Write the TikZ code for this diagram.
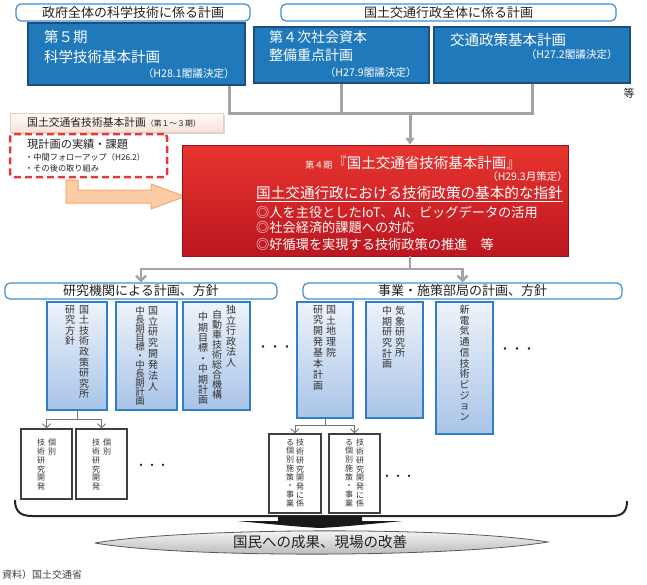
\documentclass[tikz,border=0pt]{standalone}
\usepackage{fontspec}
\setmainfont{Noto Sans CJK JP}
\usetikzlibrary{arrows.meta,shadows}
\definecolor{hdrblue}{HTML}{3D8FD1}
\definecolor{bbfill}{HTML}{2079BA}
\definecolor{bbdraw}{HTML}{1D4E7E}
\definecolor{redtop}{HTML}{E8352F}
\definecolor{redbot}{HTML}{BC1620}
\definecolor{lbtop}{HTML}{EEF3FA}
\definecolor{lbbot}{HTML}{A8C4E8}
\definecolor{lbdraw}{HTML}{2F7EC6}
\definecolor{conncol}{HTML}{A3A3A3}
\definecolor{dashred}{HTML}{E03A3A}
\definecolor{orfill}{HTML}{FBCCA6}
\definecolor{ordraw}{HTML}{F5A76E}
\definecolor{txt}{HTML}{222222}
\definecolor{lptop}{HTML}{FFFAF6}
\definecolor{lpbot}{HTML}{F6E3D8}
\definecolor{lpdraw}{HTML}{E5CFC5}
\newcommand\fs[1]{\fontsize{#1}{#1}\selectfont}
\newcommand\vf[2]{\fontsize{#1}{#2}\selectfont}
\begin{document}
\begin{tikzpicture}[x=1pt,y=-1pt,
  hdr/.style={draw=hdrblue, line width=1.2pt, rounded corners=5pt, fill=white, inner sep=0pt, text=txt, font=\fs{13}},
  bbox/.style={draw=bbdraw, line width=1.5pt, fill=bbfill, inner sep=0pt},
  vbox/.style={draw=lbdraw, line width=1.8pt, top color=lbtop, bottom color=lbbot, inner sep=0pt},
  ibox/.style={draw=black!75, line width=1.3pt, fill=white, inner sep=0pt},
  vt/.style={inner sep=0pt, anchor=north, align=center, text=black!80},
  wt/.style={inner sep=0pt, text=white},
  bt/.style={inner sep=0pt, text=txt},
  conn/.style={draw=conncol, line width=3pt},
  conntwo/.style={draw=conncol, line width=2.5pt},
  thinconn/.style={draw=black!55, line width=0.9pt},
  barb/.style={-{Straight Barb[length=4pt,width=8pt]}},
]
\useasboundingbox (0,0) rectangle (647,584);

% top headers
\node[hdr, minimum width=234, minimum height=17] (hA) at (133,12.5) {政府全体の科学技術に係る計画};
\node[hdr, minimum width=335, minimum height=17] (hB) at (448.5,12.5) {国土交通行政全体に係る計画};

% blue boxes
\node[bbox, minimum width=217, minimum height=62] (b1) at (136.5,54) {};
\node[wt, font=\fs{14.5}, anchor=west] (b1a) at (44,37) {第５期};
\node[wt, font=\fs{14.5}, anchor=west] (b1b) at (44,57) {科学技術基本計画};
\node[wt, font=\fs{10.6}, anchor=east] (b1c) at (235,73) {（H28.1閣議決定）};

\node[bbox, minimum width=175, minimum height=56] (b2) at (341.5,55) {};
\node[wt, font=\fs{14}, anchor=west] (b2a) at (269,37) {第４次社会資本};
\node[wt, font=\fs{14}, anchor=west] (b2b) at (269,55) {整備重点計画};
\node[wt, font=\fs{10.6}, anchor=east] (b2c) at (417,72) {（H27.9閣議決定）};

\node[bbox, minimum width=196, minimum height=56] (b3) at (532,55) {};
\node[wt, font=\fs{14.5}, anchor=west] (b3a) at (450,40) {交通政策基本計画};
\node[wt, font=\fs{10.6}, anchor=east] (b3b) at (618,54) {（H27.2閣議決定）};
\node[bt, font=\fs{11}] (etc) at (629,93) {等};

% light box
\node[draw=lpdraw, line width=0.6pt, top color=lptop, bottom color=lpbot,
  drop shadow={shadow xshift=1.5pt, shadow yshift=-1.5pt, opacity=0.3},
  minimum width=213, minimum height=19, inner sep=0pt] (lp) at (116.5,122.5) {};
\node[bt, anchor=west] (lpt) at (27,122.5) {{\fs{10.8}国土交通省技術基本計画}{\fs{7.8}（第１～３期）}};

% dashed box
\node[draw=dashred, line width=2.5pt, dash pattern=on 7pt off 4pt, rounded corners=3pt, fill=white,
  minimum width=157, minimum height=43, inner sep=0pt] (dsh) at (88.5,155.5) {};
\node[bt, anchor=west, font=\fs{11.2}] (ds1) at (27,144) {現計画の実績・課題};
\node[bt, anchor=west, font=\fs{8.2}] (ds2) at (25,157) {・中間フォローアップ（H26.2）};
\node[bt, anchor=west, font=\fs{8.2}] (ds3) at (25,168) {・その後の取り組み};

% orange arrow
\draw[draw=ordraw, line width=1pt, fill=orfill]
  (66,180) -- (78,180) -- (78,190) -- (151,190) -- (151,184) -- (185,196.5)
  -- (151,209) -- (151,203) -- (66,203) -- cycle;

% red box
\node[top color=redtop, bottom color=redbot, draw=redbot!80!black, line width=0.5pt,
  minimum width=386, minimum height=111, inner sep=0pt] (red) at (375,200.5) {};
\node[wt] (r1) at (413,163) {{\fs{9}第４期}{\fs{14.5}『国土交通省技術基本計画』}};
\node[wt, font=\fs{10.5}, anchor=east] (r2) at (568,177) {（H29.3月策定）};
\node[wt, font=\fs{14.6}, anchor=west] (r3) at (256,193) {国土交通行政における技術政策の基本的な指針};
\draw[white, line width=0.8pt] ([yshift=-1.5pt]r3.south west) -- ([yshift=-1.5pt]r3.south east);
\node[wt, font=\fs{13.2}, anchor=west] (r4) at (256,212) {◎人を主役としたIoT、AI、ビッグデータの活用};
\node[wt, font=\fs{13.2}, anchor=west] (r5) at (256,228) {◎社会経済的課題への対応};
\node[wt, font=\fs{13.2}, anchor=west] (r6) at (256,244) {◎好循環を実現する技術政策の推進　等};

% top connectors
\coordinate (j1) at (229,113);
\coordinate (j2) at (341.5,113);
\coordinate (j3) at (532,113);
\coordinate (j4) at (410,113);
\draw[conn] (b1.south -| j1) -- (j1) -- (j3) -- (b3.south);
\draw[conn] (b2.south) -- (j2);
\draw[conn, -{Triangle[length=7pt,width=9pt]}] (j4) -- (red.north -| j4);

% second headers
\node[hdr, minimum width=272, minimum height=16] (h1) at (141,291) {研究機関による計画、方針};
\node[hdr, minimum width=319, minimum height=16] (h2) at (462.5,291) {事業・施策部局の計画、方針};

\coordinate (k0) at (410,269);
\coordinate (k1) at (141,269);
\coordinate (k2) at (462.5,269);
\draw[conntwo] (red.south -| k0) -- (k0);
\draw[conntwo, -{Straight Barb[length=5pt,width=10pt]}] (k0) -- (k1) -- (h1.north);
\draw[conntwo, -{Straight Barb[length=5pt,width=10pt]}] (k0) -- (k2) -- (h2.north);

% vertical boxes
\node[vbox, minimum width=60, minimum height=108] (va) at (77,356) {};
\node[vbox, minimum width=61, minimum height=108] (vb) at (146.5,356) {};
\node[vbox, minimum width=67, minimum height=108] (vc) at (216.5,356) {};
\node[vbox, minimum width=56, minimum height=116] (vd) at (325,360) {};
\node[vbox, minimum width=57, minimum height=116] (ve) at (394.5,360) {};
\node[vbox, minimum width=57, minimum height=132] (vf) at (464.5,368) {};

\node[vt, font=\vf{10}{10.6}] (va1) at (84,305) {国\\土\\技\\術\\政\\策\\研\\究\\所};
\node[vt, font=\vf{10}{10.6}] (va2) at (70,305) {研\\究\\方\\針};
\node[vt, font=\vf{10}{10.9}] (vb1) at (153,306) {国\\立\\研\\究\\開\\発\\法\\人};
\node[vt, font=\vf{9.5}{9}] (vb2) at (140,306) {中\\長\\期\\目\\標\\・\\中\\長\\期\\計\\画};
\node[vt, font=\vf{10}{10.5}] (vc1) at (231,305) {独\\立\\行\\政\\法\\人};
\node[vt, font=\vf{10}{10}] (vc2) at (217,310) {自\\動\\車\\技\\術\\総\\合\\機\\構};
\node[vt, font=\vf{10}{10.4}] (vc3) at (203,312) {中\\期\\目\\標\\・\\中\\期\\計\\画};
\node[vt, font=\vf{10}{10.9}] (vd1) at (331,305) {国\\土\\地\\理\\院};
\node[vt, font=\vf{10}{10.9}] (vd2) at (318,305) {研\\究\\開\\発\\基\\本\\計\\画};
\node[vt, font=\vf{10}{10.5}] (ve1) at (400,306) {気\\象\\研\\究\\所};
\node[vt, font=\vf{10}{10.6}] (ve2) at (387,306) {中\\期\\研\\究\\計\\画};
\node[vt, font=\vf{10}{10.7}] (vf1) at (464.5,305) {新\\電\\気\\通\\信\\技\\術\\ビ\\ジ\\ョ\\ン};

\node[bt, font=\fs{12}] (dt1) at (275,349) {・・・};
\node[bt, font=\fs{12}] (dt2) at (517,351) {・・・};

% individual boxes
\node[ibox, minimum width=51, minimum height=70] (i1) at (46.5,464) {};
\node[ibox, minimum width=51, minimum height=70] (i2) at (101.5,464) {};
\node[ibox, minimum width=52, minimum height=79] (i3) at (295,473.5) {};
\node[ibox, minimum width=51, minimum height=79] (i4) at (354.5,473.5) {};

\node[vt, font=\vf{8}{8.7}] (i1a) at (52,439) {個\\別};
\node[vt, font=\vf{8}{8.7}] (i1b) at (41,439) {技\\術\\研\\究\\開\\発};
\node[vt, font=\vf{8}{8.7}] (i2a) at (107,439) {個\\別};
\node[vt, font=\vf{8}{8.7}] (i2b) at (96,439) {技\\術\\研\\究\\開\\発};
\node[vt, font=\vf{8}{8.7}] (i3a) at (300,439) {技\\術\\研\\究\\開\\発\\に\\係};
\node[vt, font=\vf{8}{8.7}] (i3b) at (290,439) {る\\個\\別\\施\\策\\・\\事\\業};
\node[vt, font=\vf{8}{8.7}] (i4a) at (360,439) {技\\術\\研\\究\\開\\発\\に\\係};
\node[vt, font=\vf{8}{8.7}] (i4b) at (349,439) {る\\個\\別\\施\\策\\・\\事\\業};

\node[bt, font=\fs{11}] (dt3) at (152,467) {・・・};
\node[bt, font=\fs{11}] (dt4) at (398,478) {・・・};

\coordinate (m1) at (77,419);
\coordinate (m2) at (325,425);
\draw[thinconn] (va.south) -- (m1);
\draw[thinconn, barb] (m1) -| (i1.north);
\draw[thinconn, barb] (m1) -| (i2.north);
\draw[thinconn] (vd.south) -- (m2);
\draw[thinconn, barb] (m2) -| (i3.north);
\draw[thinconn, barb] (m2) -| (i4.north);

% bracket
\draw[line width=2pt, black!85] (15,500) .. controls (15,511) and (20,516) .. (32,516) -- (612,516)
  .. controls (623,516) and (627,511) .. (627,501);

% wedge arrow
\fill[black!90] (278,516) -- (362,516) -- (362,521) -- (403,521)
  .. controls (370,524) and (340,527) .. (320,528)
  .. controls (300,527) and (270,524) .. (237,521) -- (278,521) -- cycle;

% lens
\draw[draw=black!65, line width=0.8pt, top color=white, bottom color=black!30]
  (95,543) .. controls (180,528) and (450,526) .. (548,542)
  .. controls (450,558) and (180,558) .. (95,543);
\node[bt, font=\fs{14.5}] (lens) at (320,542) {国民への成果、現場の改善};

\node[bt, anchor=west, font=\fs{10}, text=black!75] (src) at (2,575) {資料）国土交通省};
\end{tikzpicture}
\end{document}
